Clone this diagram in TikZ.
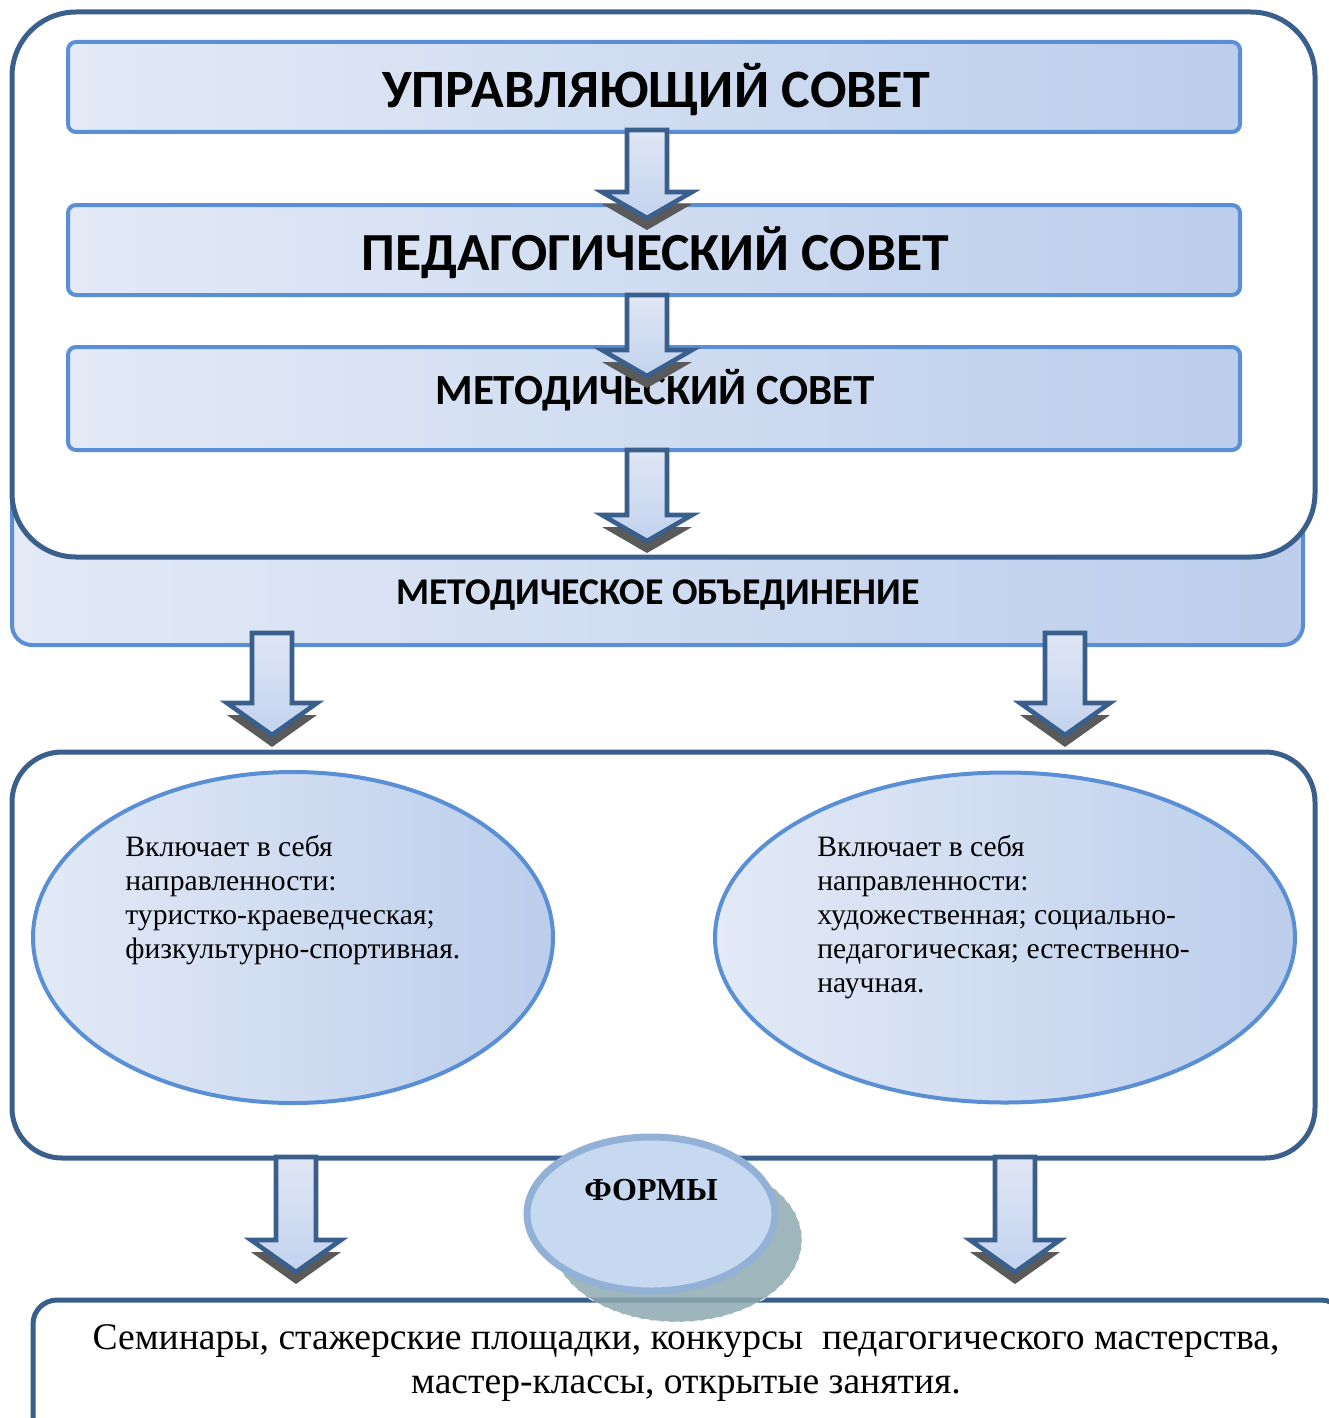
\documentclass[tikz,border=0pt]{standalone}
\usepackage{fontspec}
\setmainfont{Liberation Serif}
\newfontfamily\hd{Carlito}
\usetikzlibrary{shapes.geometric}
\definecolor{dkb}{HTML}{3A5F8D}
\definecolor{ltb}{HTML}{5A8FD6}
\definecolor{fl}{HTML}{E3EAF6}
\definecolor{fr}{HTML}{BCCEEC}
\definecolor{shd}{HTML}{5A5A5A}
\definecolor{atop}{HTML}{E0E7F5}
\definecolor{abot}{HTML}{C2D2EE}
\definecolor{fmfill}{HTML}{C6D9F1}
\definecolor{fmbord}{HTML}{93B1D6}
\definecolor{fmsh}{HTML}{8EA9B0}
\tikzset{
  box/.style={draw=ltb, line width=2pt, rounded corners=4pt, left color=fl, right color=fr, inner sep=0pt},
  frame/.style={draw=dkb, line width=2.5pt, fill=white, inner sep=0pt},
  arrbody/.style={draw=dkb, line width=2.3pt, line join=miter, top color=atop, bottom color=abot},
  arrshadow/.style={fill=shd},
  oval/.style={ellipse, draw=ltb, line width=2pt, left color=fl, right color=fr, inner sep=0pt},
  title/.style={font=\hd\bfseries\fontsize{27}{30}\selectfont, inner sep=0pt},
  small/.style={font=\fontsize{14.8}{17}\selectfont, align=left, anchor=north west, inner sep=0pt},
}
\newcommand{\blockarr}[4]{%
  \fill[arrshadow] (#1-20,#2+12) -- (#1+20,#2+12) -- (#1+20,#3+12) -- (#1+45,#3+12) -- (#1,#4+12) -- (#1-45,#3+12) -- (#1-20,#3+12) -- cycle;
  \draw[arrbody] (#1-20,#2) -- (#1+20,#2) -- (#1+20,#3) -- (#1+45,#3) -- (#1,#4) -- (#1-45,#3) -- (#1-20,#3) -- cycle;
}
\begin{document}
\begin{tikzpicture}[x=0.5pt, y=-0.5pt]
\useasboundingbox (0,0) rectangle (1328,1418);
% methodical association box (behind)
\node[box, rounded corners=10pt, minimum width=645.5pt, minimum height=122.5pt] (mo) at (657.5,522.5) {};
% top frame
\node[frame, rounded corners=32pt, minimum width=651.5pt, minimum height=272.5pt] (topframe) at (663.5,284.5) {};
% boxes
\node[box, minimum width=586pt, minimum height=45pt] (b1) at (654,87) {};
\node[title] (t1) at (656,90) {УПРАВЛЯЮЩИЙ СОВЕТ};
\node[box, minimum width=586pt, minimum height=45pt] (b2) at (654,250) {};
\node[title, font=\hd\bfseries\fontsize{26.8}{30}\selectfont] (t2) at (655,253) {ПЕДАГОГИЧЕСКИЙ СОВЕТ};
\node[box, minimum width=586pt, minimum height=51.5pt] (b3) at (654,398.5) {};
\node[title, font=\hd\bfseries\fontsize{21.5}{24}\selectfont] (t3) at (655,390) {МЕТОДИЧЕСКИЙ СОВЕТ};
% arrows top
\blockarr{647}{130}{192}{218}
\blockarr{647}{295}{350}{376}
\blockarr{647}{450}{515}{541}
\node[title, font=\hd\bfseries\fontsize{18.9}{22}\selectfont] (tmo) at (658,595) {МЕТОДИЧЕСКОЕ ОБЪЕДИНЕНИЕ};
\blockarr{272}{633}{703}{735}
\blockarr{1065}{633}{703}{735}
% middle frame
\node[frame, rounded corners=25pt, minimum width=651.5pt, minimum height=203pt] (mid) at (663.5,955) {};
\node[oval, minimum width=260pt, minimum height=165.5pt] (e1) at (293,937.5) {};
\node[oval, minimum width=290pt, minimum height=165pt] (e2) at (1005,937.5) {};
\node[small] (e1t) at (125,835) {Включает в себя\\направленности:\\туристко-краеведческая;\\физкультурно-спортивная.};
\node[small] (e2t) at (817,835) {Включает в себя\\направленности:\\художественная; социально-\\педагогическая; естественно-\\научная.};
% bottom arrows
\blockarr{296}{1157}{1240}{1272}
\blockarr{1015}{1157}{1240}{1272}
% bottom frame
\node[frame, rounded corners=12pt, minimum width=656pt, minimum height=70pt] (bot) at (689,1370) {};
\node[font=\fontsize{18.8}{22}\selectfont, align=center, inner sep=0pt] (bott) at (686,1363) {Семинары, стажерские площадки, конкурсы\ \ педагогического мастерства,\\мастер-классы, открытые занятия.};
% forms ellipse
\node[ellipse, fill=fmsh, fill opacity=0.85, draw=white, densely dashed, line width=0.4pt, minimum width=125pt, minimum height=82pt, inner sep=0pt] (fsh) at (677,1240) {};
\node[ellipse, fill=fmfill, draw=fmbord, line width=3.5pt, minimum width=124pt, minimum height=77pt, inner sep=0pt] (forms) at (651,1214) {};
\node[font=\bfseries\fontsize{16}{18}\selectfont, inner sep=0pt] (ft) at (651,1190) {ФОРМЫ};
\end{tikzpicture}
\end{document}
